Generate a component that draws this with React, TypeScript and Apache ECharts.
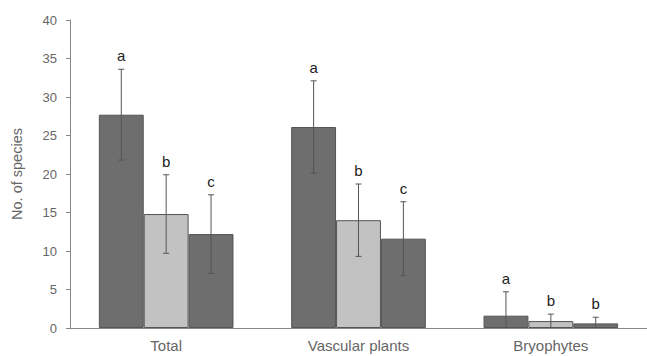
import React, { useEffect, useRef } from "react";
import * as echarts from "echarts";

const categories = ["Total", "Vascular plants", "Bryophytes"];
const yTicks = [0, 5, 10, 15, 20, 25, 30, 35, 40];

const seriesA = [27.7, 26.1, 1.6];
const errA = [5.9, 6.0, 3.1];
const lettersA = ["a", "a", "a"];

const seriesB = [14.8, 14.0, 0.9];
const errB = [5.1, 4.7, 0.9];
const lettersB = ["b", "b", "b"];

const seriesC = [12.2, 11.6, 0.6];
const errC = [5.1, 4.8, 0.8];
const lettersC = ["c", "c", "b"];

const CAT_GAP = 0.3;

export default function App() {
  const ref = useRef<HTMLDivElement>(null);
  useEffect(() => {
    document.body.style.margin = "0";
    const chart = echarts.init(ref.current!, null, { renderer: "svg" });
    const groups = [
      { vals: seriesA, errs: errA, letters: lettersA, color: "#6e6e6e" },
      { vals: seriesB, errs: errB, letters: lettersB, color: "#c2c2c2" },
      { vals: seriesC, errs: errC, letters: lettersC, color: "#6e6e6e" },
    ];
    const barSeries = groups.map((g) => ({
      type: "bar",
      data: g.vals,
      barGap: "0%",
      barCategoryGap: CAT_GAP * 100 + "%",
      itemStyle: { color: g.color, borderColor: "#555", borderWidth: 1 },
      silent: true,
    }));
    const errSeries = groups.map((g, si) => ({
      type: "custom",
      data: g.vals.map((v, i) => [i, v, g.errs[i], si]),
      encode: { x: 0, y: 1 },
      z: 10,
      clip: true,
      silent: true,
      renderItem: (params: any, api: any) => {
        const ci = api.value(0);
        const mean = api.value(1);
        const e = api.value(2);
        const catW = api.size([1, 0])[0];
        const bw = (catW * (1 - CAT_GAP)) / 3;
        const center = api.coord([ci, mean]);
        const x = center[0] + (si - 1) * bw;
        const top = api.coord([ci, mean + e])[1];
        const bot = api.coord([ci, mean - e])[1];
        const cap = 3;
        const st = { stroke: "#555", lineWidth: 1 };
        return {
          type: "group",
          children: [
            { type: "line", shape: { x1: x, y1: top, x2: x, y2: bot }, style: st },
            { type: "line", shape: { x1: x - cap, y1: top, x2: x + cap, y2: top }, style: st },
            { type: "line", shape: { x1: x - cap, y1: bot, x2: x + cap, y2: bot }, style: st },
            {
              type: "text",
              x: x,
              y: top - 6,
              style: {
                text: g.letters[ci],
                fill: "#222",
                font: "15px 'Liberation Sans', Arial, sans-serif",
                align: "center",
                verticalAlign: "bottom",
              },
            },
          ],
        };
      },
    }));
    chart.setOption({
      animation: false,
      grid: { left: 70, right: -16, top: 20, bottom: 28 },
      xAxis: {
        type: "category",
        data: categories,
        axisLine: { lineStyle: { color: "#888", width: 1 } },
        axisTick: { length: 3, lineStyle: { color: "#888" } },
        axisLabel: {
          color: "#666",
          fontSize: 15,
          fontFamily: "'Liberation Sans', Arial, sans-serif",
          margin: 10,
        },
      },
      yAxis: {
        type: "value",
        min: 0,
        max: yTicks[yTicks.length - 1],
        interval: yTicks[1] - yTicks[0],
        name: "No. of species",
        nameLocation: "middle",
        nameGap: 46,
        nameTextStyle: {
          color: "#666",
          fontSize: 14.5,
          fontFamily: "'Liberation Sans', Arial, sans-serif",
        },
        splitLine: { show: false },
        axisLine: { show: true, lineStyle: { color: "#888", width: 1 } },
        axisTick: { show: true, length: 4, lineStyle: { color: "#888" } },
        axisLabel: {
          color: "#666",
          fontSize: 13,
          fontFamily: "'Liberation Sans', Arial, sans-serif",
          margin: 13,
        },
      },
      series: [...barSeries, ...errSeries],
    });
    return () => chart.dispose();
  }, []);
  return <div ref={ref} style={{ width: 647, height: 356 }} />;
}
